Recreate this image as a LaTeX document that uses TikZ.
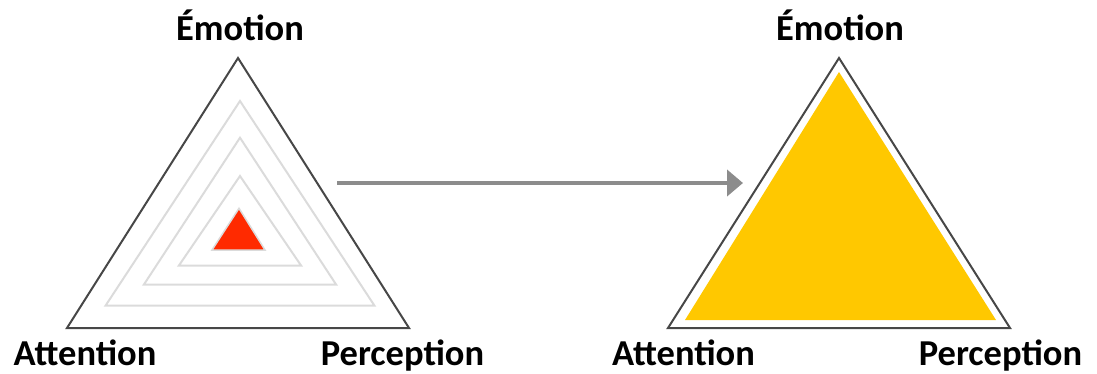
\documentclass[tikz,border=0pt]{standalone}
\usepackage{fontspec}
\setmainfont{Carlito}
\usetikzlibrary{arrows.meta}

\definecolor{coreRed}{HTML}{FF2A00}
\definecolor{fullYellow}{HTML}{FFC800}

\begin{document}
\begin{tikzpicture}[
  x=1pt, y=-1pt,
  outer/.style={draw=black!72, line width=2pt},
  ring/.style={draw=black!14, line width=2pt},
  core/.style={fill=coreRed, draw=black!14, line width=1.5pt},
  full/.style={fill=fullYellow},
  corner/.style={font=\fontsize{36.5}{40}\selectfont\bfseries, anchor=base},
  flow/.style={-{Triangle[length=16pt, width=26pt]}, draw=black!45, line width=4pt}
]
\useasboundingbox (0,0) rectangle (1097,373);

% Left triangle
\coordinate (la) at (238,58);
\coordinate (lb) at (67,328);
\coordinate (lc) at (409,328);
\draw[outer] (la) -- (lb) -- (lc) -- cycle;

% Grey rings
\foreach \top/\base/\half in {101/305.7/134.5, 137.7/284.7/96.2, 176/265.7/61.2} {
  \draw[ring] (240,\top) -- (240-\half,\base) -- (240+\half,\base) -- cycle;
}

% Red core
\draw[core] (239,208.3) -- (212,250) -- (265,250) -- cycle;

% Right triangle
\coordinate (ra) at (839,58);
\coordinate (rb) at (668,328);
\coordinate (rc) at (1010,328);
\draw[outer] (ra) -- (rb) -- (rc) -- cycle;
\fill[full] (839,72) -- (685,320) -- (996,320) -- cycle;

% Labels
\node[corner] (emoL) at (240,40) {Émotion};
\node[corner] (attL) at (85,365) {Attention};
\node[corner] (perL) at (402.5,365) {Perception};
\node[corner] (emoR) at (840,40) {Émotion};
\node[corner] (attR) at (683.5,365) {Attention};
\node[corner] (perR) at (1000.5,365) {Perception};

% Arrow
\coordinate (from) at (337,183);
\coordinate (to) at (743,183);
\draw[flow] (from) -- (to);

\end{tikzpicture}
\end{document}
